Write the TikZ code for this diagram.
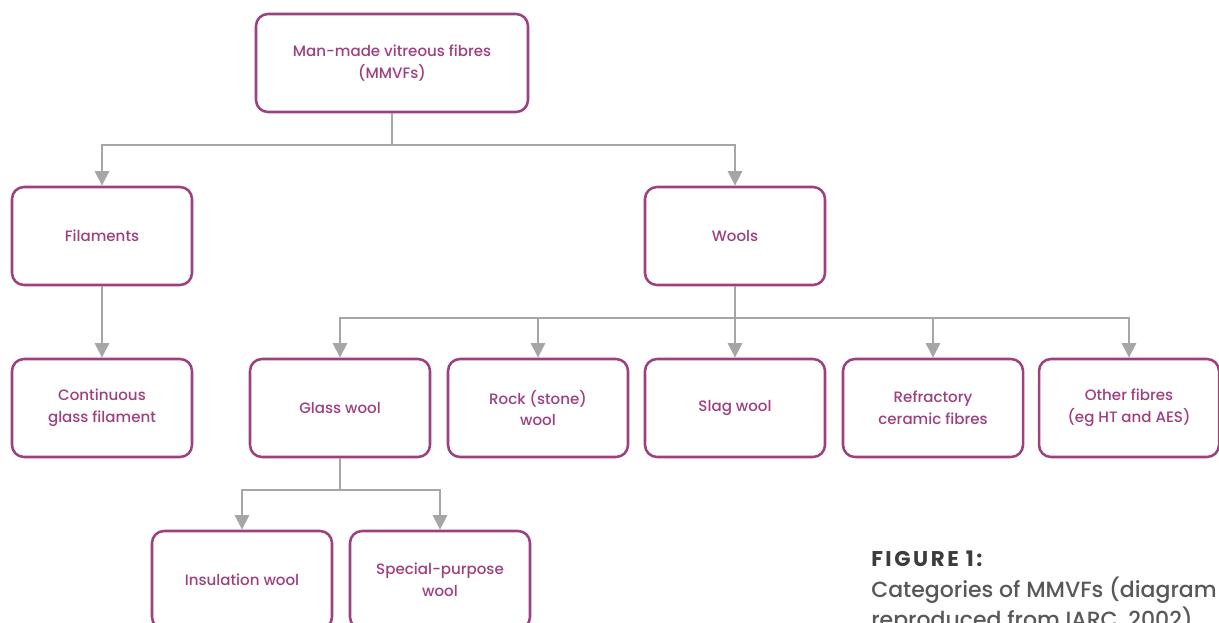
\documentclass[tikz,border=0pt]{standalone}
\usepackage{fontspec}
\setmainfont{Poppins}[UprightFont=* Medium, BoldFont=* Bold]
\usetikzlibrary{arrows.meta}
\definecolor{plum}{HTML}{9E3F80}
\definecolor{linegray}{HTML}{A6A6A9}
\definecolor{capdark}{HTML}{3C3C3E}
\definecolor{capgray}{HTML}{58585A}
\tikzset{
  box/.style={draw=plum, line width=1.9pt, rounded corners=9pt, text=plum,
    minimum width=135pt, minimum height=73.5pt, inner sep=0pt, align=center,
    font=\fontsize{11.3}{16.2}\selectfont},
  conn/.style={draw=linegray, line width=2.2pt,
    -{Triangle[width=10.5pt,length=11pt]}},
}
\begin{document}
\begin{tikzpicture}[x=0.75pt,y=-0.75pt]
  \useasboundingbox (0,0) rectangle (1219,623);
  \clip (0,0) rectangle (1219,623);

  % top level
  \node[box, minimum width=204pt] (mmvf) at (392,63) {Man-made vitreous fibres\\(MMVFs)};
  \node[box] (fil) at (102,236) {Filaments};
  \node[box] (wool) at (735,236) {Wools};

  % third row
  \node[box] (cont) at (102,408) {Continuous\\glass filament};
  \node[box] (glass) at (340,408) {Glass wool};
  \node[box] (rock) at (538,408) {Rock (stone)\\wool};
  \node[box] (slag) at (735,408) {Slag wool};
  \node[box] (rcf) at (933,408) {Refractory\\ceramic fibres};
  \node[box] (other) at (1129,408) {Other fibres\\(eg HT and AES)};

  % bottom row
  \node[box] (ins) at (242,580) {Insulation wool};
  \node[box] (spec) at (440,580) {Special-purpose\\wool};

  % connectors
  \coordinate (j1) at (392,145);
  \coordinate (j2) at (735,318);
  \coordinate (j3) at (340,490);
  \draw[conn] (mmvf.south) -- (j1) -| (fil.north);
  \draw[conn] (j1) -| (wool.north);
  \draw[conn] (fil.south) -- (cont.north);
  \draw[conn] (wool.south) -- (j2) -| (glass.north);
  \draw[conn] (j2) -| (rock.north);
  \draw[conn] (j2) -- (slag.north);
  \draw[conn] (j2) -| (rcf.north);
  \draw[conn] (j2) -| (other.north);
  \draw[conn] (glass.south) -- (j3) -| (ins.north);
  \draw[conn] (j3) -| (spec.north);

  % caption
  \node[anchor=base west, inner sep=0pt, text=capdark,
    font=\fontsize{16}{16}\selectfont\bfseries\addfontfeature{LetterSpace=12}] (fig) at (871,566) {FIGURE 1:};
  \node[anchor=base west, inner sep=0pt, text=capgray, align=left,
    font=\fontsize{16.5}{22}\selectfont] (cap) at (871,627)
    {Categories of MMVFs (diagram\\reproduced from IARC, 2002)};
\end{tikzpicture}
\end{document}
